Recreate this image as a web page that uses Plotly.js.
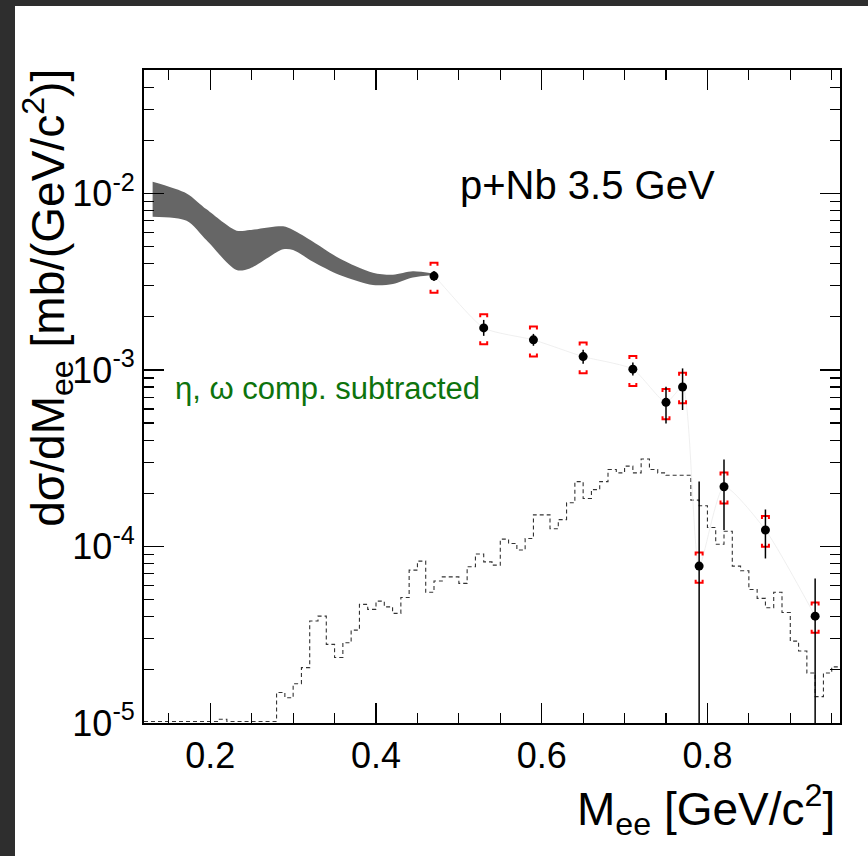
<!DOCTYPE html>
<html>
<head>
<meta charset="utf-8">
<script src="https://cdn.plot.ly/plotly-3.0.1.min.js"></script>
<style>
  html, body { margin: 0; padding: 0; background: #2e2e2e; width: 868px; height: 856px; overflow: hidden; }
  #plot { position: absolute; left: 15px; top: 6px; width: 853px; height: 850px; background: #ffffff; }
</style>
</head>
<body>
<div id="plot"></div>
<script>
// ---- Data points (mass in GeV/c^2, dsigma/dM in mb/(GeV/c^2)) ----
const massPts = [0.47, 0.53, 0.59, 0.65, 0.71, 0.75, 0.77, 0.79, 0.82, 0.87, 0.93];
const xsecPts = [3.40e-3, 1.73e-3, 1.48e-3, 1.19e-3, 1.01e-3, 6.55e-4, 8.0e-4, 7.74e-5, 2.18e-4, 1.24e-4, 4.03e-5];
// statistical error ends (upper / lower)
const statHi = [3.63e-3, 1.92e-3, 1.60e-3, 1.30e-3, 1.10e-3, 8.03e-4, 1.02e-3, 2.33e-4, 3.11e-4, 1.62e-4, 6.59e-5];
const statLo = [3.19e-3, 1.56e-3, 1.37e-3, 1.085e-3, 0.93e-3, 4.97e-4, 5.93e-4, 1.0e-6, 1.24e-4, 8.55e-5, 1.0e-6];
// systematic error ends (red brackets)
const sysHi = [4.05e-3, 2.07e-3, 1.76e-3, 1.43e-3, 1.20e-3, 7.80e-4, 9.64e-4, 9.25e-5, 2.62e-4, 1.49e-4, 4.82e-5];
const sysLo = [2.74e-3, 1.40e-3, 1.19e-3, 9.58e-4, 8.11e-4, 5.25e-4, 6.47e-4, 6.22e-5, 1.75e-4, 9.96e-5, 3.24e-5];

// ---- Grey model band ----
const bandX  = [0.1304, 0.1714, 0.1955, 0.2317, 0.2477, 0.2879, 0.2999, 0.3240, 0.3561, 0.3963, 0.4204, 0.4445, 0.4686];
const bandHi = [1.165e-2, 1.00e-2, 8.12e-3, 6.15e-3, 6.20e-3, 6.51e-3, 6.20e-3, 5.33e-3, 4.28e-3, 3.55e-3, 3.46e-3, 3.62e-3, 3.52e-3];
const bandLo = [7.38e-3, 7.00e-3, 5.42e-3, 3.68e-3, 3.76e-3, 4.82e-3, 4.78e-3, 4.10e-3, 3.45e-3, 3.03e-3, 3.07e-3, 3.34e-3, 3.45e-3];

// ---- Dashed histogram (bin low edges, 0.01 wide) ----
const histEdges = [0.12,0.13,0.14,0.15,0.16,0.17,0.18,0.19,0.20,0.21,0.22,0.23,0.24,0.25,0.26,0.27,
  0.28,0.29,0.30,0.31,0.32,0.33,0.34,0.35,0.36,0.37,0.38,0.39,0.40,0.41,0.42,0.43,0.44,0.45,0.46,0.47,
  0.48,0.49,0.50,0.51,0.52,0.53,0.54,0.55,0.56,0.57,0.58,0.59,0.60,0.61,0.62,0.63,0.64,0.65,0.66,0.67,
  0.68,0.69,0.70,0.71,0.72,0.73,0.74,0.75,0.76,0.77,0.78,0.79,0.80,0.81,0.82,0.83,0.84,0.85,0.86,0.87,
  0.88,0.89,0.90,0.91,0.92,0.93,0.94,0.95,0.96];
const histVals = [1.02e-5,1.02e-5,1.02e-5,1.02e-5,1.02e-5,1.02e-5,1.02e-5,1.02e-5,1.02e-5,1.05e-5,1.02e-5,1.02e-5,1.02e-5,1.02e-5,1.02e-5,1.02e-5,
  1.49e-5,1.39e-5,1.67e-5,2.06e-5,3.78e-5,4.03e-5,2.79e-5,2.35e-5,2.85e-5,3.36e-5,4.70e-5,4.40e-5,4.90e-5,4.55e-5,4.18e-5,5.14e-5,7.34e-5,8.26e-5,5.50e-5,6.37e-5,
  6.73e-5,6.73e-5,6.18e-5,7.67e-5,9.06e-5,8.18e-5,7.84e-5,1.10e-4,1.04e-4,9.54e-5,1.11e-4,1.51e-4,1.51e-4,1.26e-4,1.42e-4,1.77e-4,2.33e-4,1.87e-4,2.10e-4,2.33e-4,
  2.73e-4,2.61e-4,2.85e-4,2.61e-4,3.13e-4,2.73e-4,2.61e-4,2.53e-4,2.53e-4,2.53e-4,1.83e-4,1.70e-4,1.28e-4,1.03e-4,1.22e-4,7.74e-5,7.28e-5,5.71e-5,5.08e-5,4.50e-5,
  5.50e-5,4.23e-5,2.91e-5,2.56e-5,1.92e-5,1.41e-5,1.92e-5,2.08e-5];

// ---- Axis labels ----
const xTickVals = [0.2, 0.4, 0.6, 0.8];
const xTickText = ['0.2', '0.4', '0.6', '0.8'];
const yTickVals = [1e-5, 1e-4, 1e-3, 1e-2];
const yTickText = ['10<sup>-5</sup>', '10<sup>-4</sup>', '10<sup>-3</sup>', '10<sup>-2</sup>'];

// ---------------------------------------------------------------
const histY = histVals.concat([histVals[histVals.length - 1]]);

// bracket geometry (style only)
const bdx = 0.0042;
const bleg = Math.pow(10, 3 / 176.5);
const brX = [], brY = [];
for (let i = 0; i < massPts.length; i++) {
  const x = massPts[i];
  brX.push(x - bdx, x - bdx, x + bdx, x + bdx, null);
  brY.push(sysHi[i] / bleg, sysHi[i], sysHi[i], sysHi[i] / bleg, null);
  brX.push(x - bdx, x - bdx, x + bdx, x + bdx, null);
  brY.push(sysLo[i] * bleg, sysLo[i], sysLo[i], sysLo[i] * bleg, null);
}

const errUp = xsecPts.map((v, i) => statHi[i] - v);
const errDn = xsecPts.map((v, i) => v - statLo[i]);

const traces = [
  { x: histEdges, y: histY, mode: 'lines', line: { shape: 'hv', color: '#333333', width: 1.1, dash: '4px,3px' }, hoverinfo: 'skip' },
  { x: bandX, y: bandLo, mode: 'lines', line: { width: 0, shape: 'spline', smoothing: 0.8, color: '#666666' }, hoverinfo: 'skip' },
  { x: bandX, y: bandHi, mode: 'lines', fill: 'tonexty', fillcolor: '#666666', line: { width: 0, shape: 'spline', smoothing: 0.8, color: '#666666' }, hoverinfo: 'skip' },
  { x: [bandX[bandX.length - 1]].concat(massPts), y: [xsecPts[0]].concat(xsecPts), mode: 'lines', line: { color: '#ebebeb', width: 0.8, shape: 'spline', smoothing: 0.6 }, hoverinfo: 'skip' },
  { x: brX, y: brY, mode: 'lines', line: { color: '#ff0000', width: 2 }, connectgaps: false, hoverinfo: 'skip' },
  { x: massPts, y: xsecPts, mode: 'markers', marker: { color: '#000000', size: 9, symbol: 'circle' },
    error_y: { type: 'data', symmetric: false, array: errUp, arrayminus: errDn, width: 0, thickness: 1.5, color: '#000000' } }
];

const minorY = [];
for (let d = -5; d <= -2; d++) for (let k = 2; k <= 9; k++) minorY.push(k * Math.pow(10, d));

const font = 'Liberation Sans, Arial, Helvetica, sans-serif';
const layout = {
  width: 853, height: 850,
  margin: { l: 129, r: 28, t: 64, b: 133 },
  paper_bgcolor: '#ffffff', plot_bgcolor: '#ffffff',
  showlegend: false,
  font: { family: font, color: '#000000' },
  xaxis: {
    range: [0.12, 0.96], showgrid: false, zeroline: false,
    showline: true, linecolor: '#000000', linewidth: 2, mirror: 'allticks',
    ticks: 'inside', ticklen: 20, tickwidth: 1.5, tickcolor: '#000000',
    tickmode: 'array', tickvals: xTickVals, ticktext: xTickText,
    tickfont: { size: 36, family: font, color: '#000000' },
    minor: { ticks: 'inside', ticklen: 10, tickwidth: 1.2, tickcolor: '#000000', dtick: 0.05, tick0: 0, showgrid: false }
  },
  yaxis: {
    type: 'log', range: [-5, Math.log10(0.05)], showgrid: false, zeroline: false,
    showline: true, linecolor: '#000000', linewidth: 2, mirror: 'allticks',
    ticks: 'inside', ticklen: 20, tickwidth: 1.5, tickcolor: '#000000',
    tickmode: 'array', tickvals: yTickVals, ticktext: yTickText,
    tickfont: { size: 36, family: font, color: '#000000' },
    minor: { ticks: 'inside', ticklen: 10, tickwidth: 1.2, tickcolor: '#000000', tickmode: 'array', tickvals: minorY, showgrid: false }
  },
  annotations: [
    { text: 'p+Nb 3.5 GeV', xref: 'paper', yref: 'paper', x: 0.451, y: 0.824, xanchor: 'left', yanchor: 'middle', showarrow: false,
      font: { size: 40, family: font, color: '#000000' } },
    { text: '\u03b7, \u03c9 comp. subtracted', xref: 'paper', yref: 'paper', x: 0.0417, y: 0.513, xanchor: 'left', yanchor: 'middle', showarrow: false,
      font: { size: 31, family: font, color: '#0d730d' } },
    { text: 'M<sub>ee</sub> [GeV/c<sup>2</sup>]', xref: 'paper', yref: 'paper', x: 0.9957, y: -0.133, xanchor: 'right', yanchor: 'middle', showarrow: false,
      font: { size: 46, family: font, color: '#000000' } },
    { text: 'd\u03c3/dM<sub>ee</sub> [mb/(GeV/c<sup>2</sup>)]', xref: 'paper', yref: 'paper', x: -0.1387, y: 0.652, xanchor: 'center', yanchor: 'middle', textangle: -90, showarrow: false,
      font: { size: 46, family: font, color: '#000000' } }
  ]
};

Plotly.newPlot('plot', traces, layout, { displayModeBar: false, staticPlot: true });
</script>
</body>
</html>
